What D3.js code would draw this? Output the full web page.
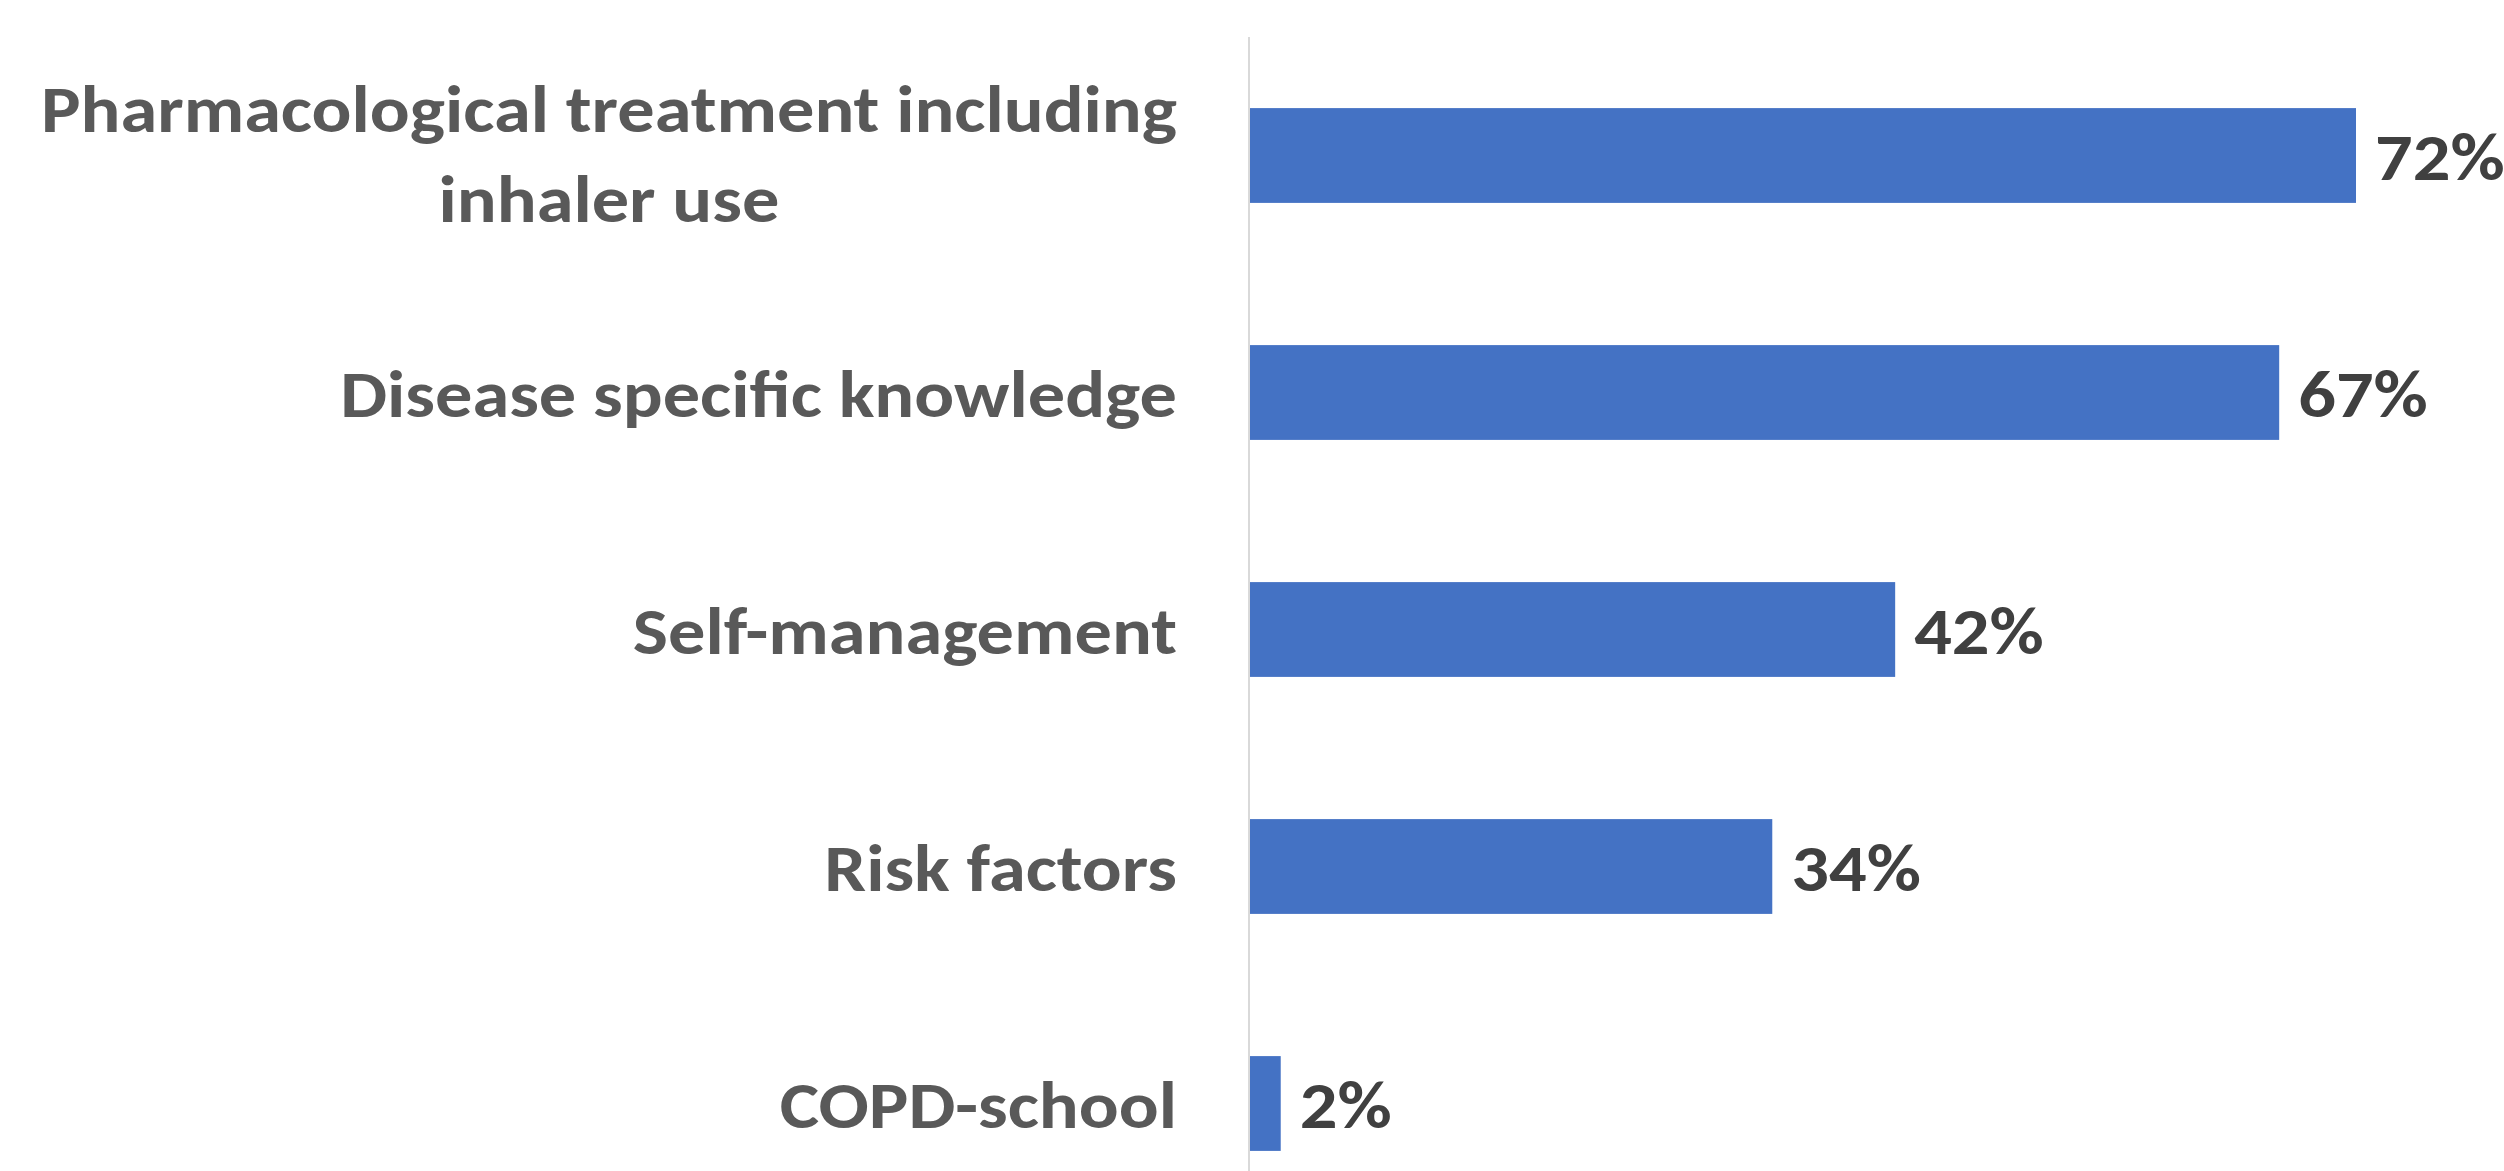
<!DOCTYPE html>
<html>
<head>
<meta charset="utf-8">
<script src="https://cdn.jsdelivr.net/npm/d3@7"></script>
<style>
  html, body { margin: 0; padding: 0; background: #ffffff; overflow: hidden; }
  svg { display: block; }
</style>
</head>
<body>
<svg id="chart" width="2504" height="1171"></svg>
<script>
// ---- data ----
const categories = [
  ["Pharmacological treatment including", "inhaler use"],
  ["Disease specific knowledge"],
  ["Self-management"],
  ["Risk factors"],
  ["COPD-school"]
];
const categoryKeys = ["Pharmacological treatment including inhaler use", "Disease specific knowledge", "Self-management", "Risk factors", "COPD-school"];
const values = [72, 67, 42, 34, 2];
const valueLabels = ["72%", "67%", "42%", "34%", "2%"];

// ---- layout ----
const W = 2504, H = 1171;
const axisX = 1250;
const svg = d3.select("#chart");
const FONT = "Carlito, Calibri, Lato, 'Open Sans', sans-serif";
const fontSize = 67;

const x = d3.scaleLinear().domain([0, 100]).range([axisX, axisX + 1106 / 72 * 100]);
const y = d3.scaleBand().domain(categoryKeys).range([37, 37 + 5 * 237]).paddingInner(0.6).paddingOuter(0.3);

const data = categoryKeys.map((k, i) => ({ key: k, lines: categories[i], value: values[i], label: valueLabels[i] }));

// bars
svg.append("g").selectAll("rect").data(data).join("rect")
  .attr("x", x(0))
  .attr("y", d => y(d.key))
  .attr("width", d => x(d.value) - x(0))
  .attr("height", y.bandwidth())
  .attr("fill", "#4472c4");

// axis line (category axis)
const yAxis = d3.axisLeft(y).tickSize(0).tickFormat("");
const axisG = svg.append("g").attr("transform", `translate(${axisX - 1},0)`).call(yAxis);
axisG.select(".domain").attr("stroke", "#d9d9d9").attr("stroke-width", 2).attr("d", `M0,37V${H + 60}`);

// category labels
const labelRight = 1177;
const lineH = 90;
const capHalf = 24;
const labG = svg.append("g")
  .attr("font-family", FONT).attr("font-weight", "bold").attr("font-size", fontSize).attr("fill", "#595959");

const catTexts = [];
data.forEach(d => {
  const n = d.lines.length;
  const cy = y(d.key) + y.bandwidth() / 2;
  d.lines.forEach((ln, j) => {
    const t = labG.append("text")
      .attr("y", cy + capHalf + (j - (n - 1) / 2) * lineH - (n > 1 ? 3 : 0))
      .text(ln);
    catTexts.push({ t, d, j, n });
  });
});

// compression factor so font widths match the reference (Calibri is narrow)
const refLong = catTexts.find(o => o.d.key === categoryKeys[0] && o.j === 0).t;
const factor = 1136 / refLong.node().getComputedTextLength();
// widest line of each label -> block width for centering
const blockW = {};
catTexts.forEach(o => {
  const w = o.t.node().getComputedTextLength() * factor;
  o.w = w;
  blockW[o.d.key] = Math.max(blockW[o.d.key] || 0, w);
});
catTexts.forEach(o => {
  const bw = blockW[o.d.key];
  const cx = labelRight - bw / 2;
  o.t.attr("text-anchor", "middle").attr("x", cx)
    .attr("textLength", o.w).attr("lengthAdjust", "spacingAndGlyphs");
});

// value labels
const valG = svg.append("g")
  .attr("font-family", FONT).attr("font-weight", "bold").attr("font-size", fontSize).attr("fill", "#404040");
valG.selectAll("text").data(data).join("text")
  .attr("x", d => x(d.value) + 19)
  .attr("y", d => y(d.key) + y.bandwidth() / 2 + capHalf)
  .text(d => d.label)
  .each(function () {
    const w = this.getComputedTextLength() * factor;
    d3.select(this).attr("textLength", w).attr("lengthAdjust", "spacingAndGlyphs");
  });
</script>
</body>
</html>
